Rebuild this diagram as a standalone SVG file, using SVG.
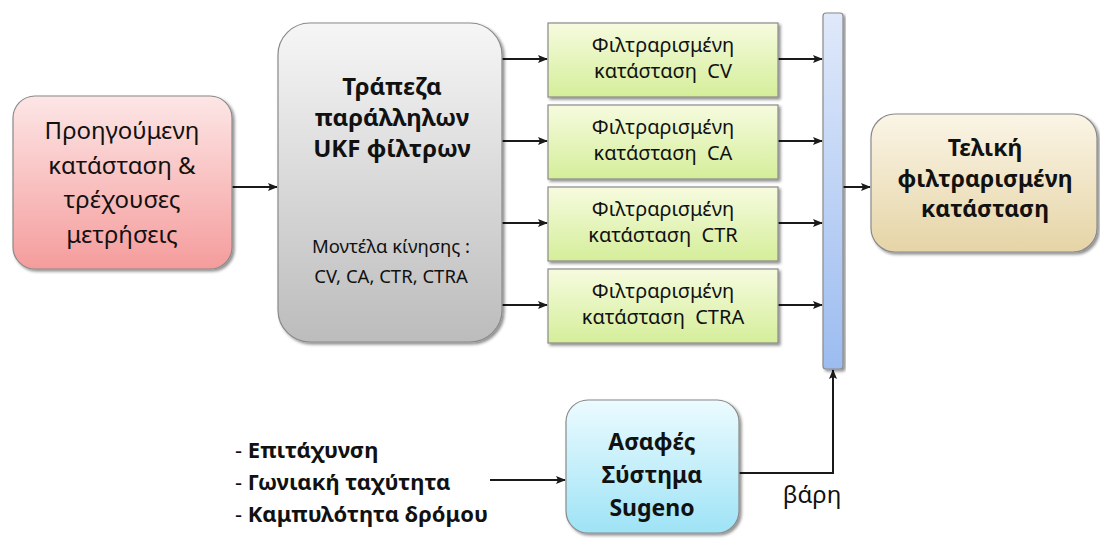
<svg xmlns="http://www.w3.org/2000/svg" width="1100" height="548" viewBox="0 0 1100 548">
  <style>
    .box { stroke: #8a8a8a; stroke-width: 1.2; filter: url(#shadow); }
    .t { font-family: "Noto Sans", "DejaVu Sans", sans-serif; fill: #111; text-anchor: middle; }
    .s { text-anchor: start; }
    .b { font-weight: bold; }
    .edge { fill: none; stroke: #1a1a1a; stroke-width: 2; }
  </style>
  <defs>
    <filter id="shadow" x="-10%" y="-10%" width="125%" height="125%">
      <feDropShadow dx="2" dy="2" stdDeviation="1.5" flood-color="#000" flood-opacity="0.45"/>
    </filter>
    <linearGradient id="gPink" x1="0" y1="0" x2="0" y2="1">
      <stop offset="0" stop-color="#fde6e6"/>
      <stop offset="1" stop-color="#f59c9c"/>
    </linearGradient>
    <linearGradient id="gGray" x1="0" y1="0" x2="0" y2="1">
      <stop offset="0" stop-color="#f6f6f6"/>
      <stop offset="1" stop-color="#bcbcbc"/>
    </linearGradient>
    <linearGradient id="gGreen" x1="0" y1="0" x2="0" y2="1">
      <stop offset="0" stop-color="#f6fbdf"/>
      <stop offset="1" stop-color="#d5ee9a"/>
    </linearGradient>
    <linearGradient id="gBar" x1="0" y1="0" x2="0" y2="1">
      <stop offset="0" stop-color="#e0e9fa"/>
      <stop offset="1" stop-color="#9cbcf0"/>
    </linearGradient>
    <linearGradient id="gTan" x1="0" y1="0" x2="0" y2="1">
      <stop offset="0" stop-color="#fbf5e6"/>
      <stop offset="1" stop-color="#e5d4a6"/>
    </linearGradient>
    <linearGradient id="gCyan" x1="0" y1="0" x2="0" y2="1">
      <stop offset="0" stop-color="#ecfbff"/>
      <stop offset="1" stop-color="#9ee3f6"/>
    </linearGradient>
    <marker id="arrow" markerUnits="userSpaceOnUse" markerWidth="10" markerHeight="10" viewBox="0 0 10 10" refX="9" refY="5" orient="auto">
      <path d="M0,1 L10,5 L0,9 L2,5 Z" fill="#1a1a1a"/>
    </marker>
  </defs>

  <!-- connectors -->
  <g id="connectors">
    <path class="edge" d="M232,187 H277" marker-end="url(#arrow)"/>
    <path class="edge" d="M502,59 H547" marker-end="url(#arrow)"/>
    <path class="edge" d="M502,141 H547" marker-end="url(#arrow)"/>
    <path class="edge" d="M502,223 H547" marker-end="url(#arrow)"/>
    <path class="edge" d="M502,305 H547" marker-end="url(#arrow)"/>
    <path class="edge" d="M778,59 H822" marker-end="url(#arrow)"/>
    <path class="edge" d="M778,141 H822" marker-end="url(#arrow)"/>
    <path class="edge" d="M778,223 H822" marker-end="url(#arrow)"/>
    <path class="edge" d="M778,305 H822" marker-end="url(#arrow)"/>
    <path class="edge" d="M843,187 H870" marker-end="url(#arrow)"/>
    <path class="edge" d="M490,480 H565" marker-end="url(#arrow)"/>
    <path class="edge" d="M739,473 H833 V370" marker-end="url(#arrow)"/>
    <text class="t" x="812" y="503" font-size="24">βάρη</text>
  </g>

  <!-- previous state & measurements -->
  <g id="node-input">
    <rect class="box" x="13" y="96" width="219" height="173" rx="22" fill="url(#gPink)"/>
    <text class="t" x="122" y="139" font-size="24">Προηγούμενη</text>
    <text class="t" x="122" y="174" font-size="24">κατάσταση &amp;</text>
    <text class="t" x="122" y="208" font-size="24">τρέχουσες</text>
    <text class="t" x="122" y="243" font-size="24">μετρήσεις</text>
  </g>

  <!-- UKF filter bank -->
  <g id="node-bank">
    <rect class="box" x="278" y="23" width="224" height="319" rx="32" fill="url(#gGray)"/>
    <text class="t b" x="392" y="95" font-size="24">Τράπεζα</text>
    <text class="t b" x="392" y="126" font-size="24">παράλληλων</text>
    <text class="t b" x="392" y="157" font-size="24">UKF φίλτρων</text>
    <text class="t" x="391" y="253" font-size="18.5">Μοντέλα κίνησης :</text>
    <text class="t" x="391" y="283" font-size="18.5">CV, CA, CTR, CTRA</text>
  </g>

  <!-- filtered states -->
  <g id="node-cv">
    <rect class="box" x="548" y="23" width="230" height="74" fill="url(#gGreen)"/>
    <text class="t" x="663" y="52" font-size="20">Φιλτραρισμένη</text>
    <text class="t" x="663" y="78" font-size="20" xml:space="preserve">κατάσταση  CV</text>
  </g>
  <g id="node-ca">
    <rect class="box" x="548" y="105" width="230" height="74" fill="url(#gGreen)"/>
    <text class="t" x="663" y="134" font-size="20">Φιλτραρισμένη</text>
    <text class="t" x="663" y="160" font-size="20" xml:space="preserve">κατάσταση  CA</text>
  </g>
  <g id="node-ctr">
    <rect class="box" x="548" y="187" width="230" height="74" fill="url(#gGreen)"/>
    <text class="t" x="663" y="216" font-size="20">Φιλτραρισμένη</text>
    <text class="t" x="663" y="242" font-size="20" xml:space="preserve">κατάσταση  CTR</text>
  </g>
  <g id="node-ctra">
    <rect class="box" x="548" y="269" width="230" height="74" fill="url(#gGreen)"/>
    <text class="t" x="663" y="298" font-size="20">Φιλτραρισμένη</text>
    <text class="t" x="663" y="324" font-size="20" xml:space="preserve">κατάσταση  CTRA</text>
  </g>

  <!-- weighted combination bar -->
  <g id="node-combiner">
    <rect class="box" x="823" y="13" width="20" height="356" rx="3" fill="url(#gBar)" stroke="#6a7a9a"/>
  </g>

  <!-- final filtered state -->
  <g id="node-final">
    <rect class="box" x="871" y="114" width="226" height="138" rx="24" fill="url(#gTan)"/>
    <text class="t b" x="985" y="156" font-size="23">Τελική</text>
    <text class="t b" x="985" y="187" font-size="23">φιλτραρισμένη</text>
    <text class="t b" x="985" y="217" font-size="23">κατάσταση</text>
  </g>

  <!-- fuzzy Sugeno system -->
  <g id="node-fuzzy">
    <rect class="box" x="566" y="400" width="173" height="133" rx="22" fill="url(#gCyan)"/>
    <text class="t b" x="652" y="450" font-size="23">Ασαφές</text>
    <text class="t b" x="652" y="483" font-size="23">Σύστημα</text>
    <text class="t b" x="652" y="516" font-size="23">Sugeno</text>
  </g>

  <!-- fuzzy inputs -->
  <g id="node-inputs">
    <text class="t s" x="235" y="458" font-size="22">- <tspan class="b">Επιτάχυνση</tspan></text>
    <text class="t s" x="235" y="490" font-size="22">- <tspan class="b">Γωνιακή ταχύτητα</tspan></text>
    <text class="t s" x="235" y="522" font-size="22">- <tspan class="b">Καμπυλότητα δρόμου</tspan></text>
  </g>
</svg>
